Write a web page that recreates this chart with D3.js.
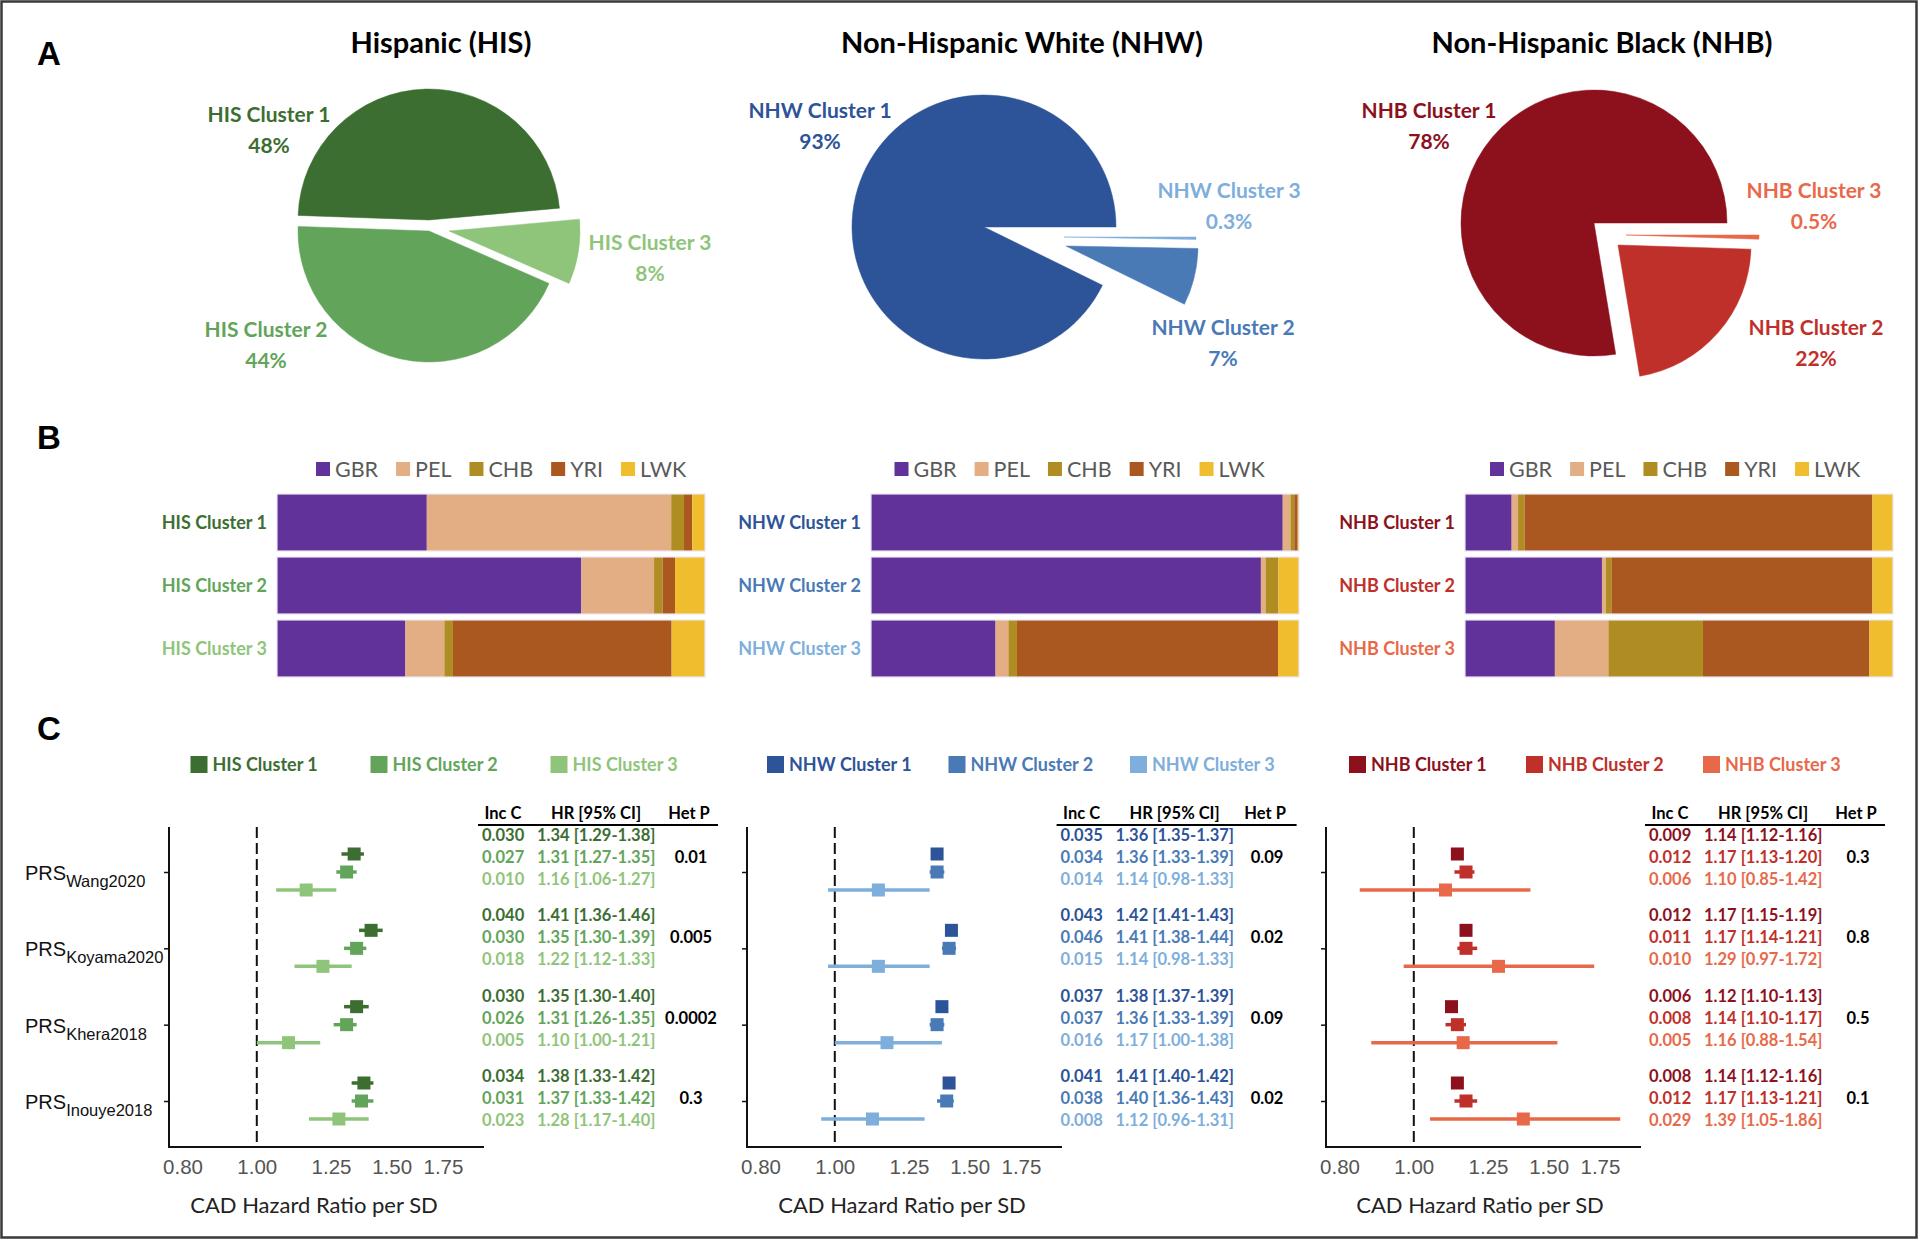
<!DOCTYPE html>
<html><head><meta charset="utf-8">
<script src="https://cdn.jsdelivr.net/npm/d3@7"></script>
<style>body{margin:0;background:#fff;} svg{display:block;}</style>
</head><body>
<svg id="c" width="1920" height="1242"></svg>
<script>
// ---------------- DATA ----------------
const groupTitles = ["Hispanic (HIS)", "Non-Hispanic White (NHW)", "Non-Hispanic Black (NHB)"];
const hisClusters = ["HIS Cluster 1", "HIS Cluster 2", "HIS Cluster 3"];
const nhwClusters = ["NHW Cluster 1", "NHW Cluster 2", "NHW Cluster 3"];
const nhbClusters = ["NHB Cluster 1", "NHB Cluster 2", "NHB Cluster 3"];

const hisColors = ["#3c6e32", "#62a55a", "#8fc57a"];
const nhwColors = ["#2d5398", "#4a7ab6", "#7eaedb"];
const nhbColors = ["#8c111c", "#c0302a", "#e8694a"];

// Panel A: cluster shares (%)
const hisShare = [48, 44, 8];
const nhwShare = [93, 7, 0.3];
const nhbShare = [78, 22, 0.5];

// Panel B: ancestry proportions per cluster
const ancestries = ["GBR", "PEL", "CHB", "YRI", "LWK"];
const ancestryColors = ["#60329a", "#e3ae84", "#b08d22", "#aa581f", "#efbd2d"];
const hisAncestry = [
  [0.350, 0.571, 0.030, 0.019, 0.030],
  [0.711, 0.170, 0.020, 0.029, 0.070],
  [0.300, 0.091, 0.020, 0.511, 0.078]
];
const nhwAncestry = [
  [0.962, 0.018, 0.009, 0.008, 0.003],
  [0.911, 0.011, 0.030, 0.000, 0.048],
  [0.291, 0.030, 0.020, 0.610, 0.049]
];
const nhbAncestry = [
  [0.109, 0.015, 0.015, 0.813, 0.048],
  [0.320, 0.009, 0.013, 0.610, 0.048],
  [0.210, 0.125, 0.221, 0.389, 0.055]
];

// Panel C: PRS hazard ratios
const prsNames = ["Wang2020", "Koyama2020", "Khera2018", "Inouye2018"];
const hrTicks = [0.80, 1.00, 1.25, 1.50, 1.75];

const hisHR = [[1.34, 1.31, 1.16], [1.41, 1.35, 1.22], [1.35, 1.31, 1.10], [1.38, 1.37, 1.28]];
const hisLo = [[1.29, 1.27, 1.06], [1.36, 1.30, 1.12], [1.30, 1.26, 1.00], [1.33, 1.33, 1.17]];
const hisHi = [[1.38, 1.35, 1.27], [1.46, 1.39, 1.33], [1.40, 1.35, 1.21], [1.42, 1.42, 1.40]];
const hisInc = [[0.030, 0.027, 0.010], [0.040, 0.030, 0.018], [0.030, 0.026, 0.005], [0.034, 0.031, 0.023]];
const hisHetP = [0.01, 0.005, 0.0002, 0.3];

const nhwHR = [[1.36, 1.36, 1.14], [1.42, 1.41, 1.14], [1.38, 1.36, 1.17], [1.41, 1.40, 1.12]];
const nhwLo = [[1.35, 1.33, 0.98], [1.41, 1.38, 0.98], [1.37, 1.33, 1.00], [1.40, 1.36, 0.96]];
const nhwHi = [[1.37, 1.39, 1.33], [1.43, 1.44, 1.33], [1.39, 1.39, 1.38], [1.42, 1.43, 1.31]];
const nhwInc = [[0.035, 0.034, 0.014], [0.043, 0.046, 0.015], [0.037, 0.037, 0.016], [0.041, 0.038, 0.008]];
const nhwHetP = [0.09, 0.02, 0.09, 0.02];

const nhbHR = [[1.14, 1.17, 1.10], [1.17, 1.17, 1.29], [1.12, 1.14, 1.16], [1.14, 1.17, 1.39]];
const nhbLo = [[1.12, 1.13, 0.85], [1.15, 1.14, 0.97], [1.10, 1.10, 0.88], [1.12, 1.13, 1.05]];
const nhbHi = [[1.16, 1.20, 1.42], [1.19, 1.21, 1.72], [1.13, 1.17, 1.54], [1.16, 1.21, 1.86]];
const nhbInc = [[0.009, 0.012, 0.006], [0.012, 0.011, 0.010], [0.006, 0.008, 0.005], [0.008, 0.012, 0.029]];
const nhbHetP = [0.3, 0.8, 0.5, 0.1];

// ---------------- DRAW ----------------
const svg = d3.select("#c");
const F = "Lato, 'Open Sans', sans-serif";
const FA = "'Liberation Sans', Arial, sans-serif";

svg.append("rect").attr("x", 1.5).attr("y", 1.5).attr("width", 1915).attr("height", 1236)
  .attr("fill", "#fff").attr("stroke", "#3a3a3a").attr("stroke-width", 2.5);

// panel letters
[["A", 65], ["B", 449], ["C", 740]].forEach(([t, y]) => {
  svg.append("text").attr("x", 37).attr("y", y).text(t)
    .attr("font-family", FA).attr("font-weight", "bold").attr("font-size", 33).attr("fill", "#000");
});

// titles
const titleX = [441, 1022, 1602];
groupTitles.forEach((t, i) => {
  svg.append("text").attr("x", titleX[i]).attr("y", 53).attr("text-anchor", "middle").text(t)
    .attr("font-family", F).attr("font-weight", "bold").attr("font-size", 29).attr("fill", "#000");
});

// ---- Panel A pies ----
function drawPie(cfg) {
  const ordered = cfg.order.map(i => ({ i, v: cfg.values[i] }));
  const a0 = cfg.startDeg * Math.PI / 180;
  const pie = d3.pie().sort(null).value(d => d.v).startAngle(a0).endAngle(a0 + 2 * Math.PI);
  const arc = d3.arc().innerRadius(0).outerRadius(cfg.r);
  const g = svg.append("g").attr("transform", `translate(${cfg.cx},${cfg.cy})`);
  g.selectAll("path").data(pie(ordered)).join("path")
    .attr("d", arc)
    .attr("fill", d => cfg.colors[d.data.i])
    .attr("stroke", d => cfg.colors[d.data.i]).attr("stroke-width", 0.5)
    .attr("transform", d => `translate(${cfg.offsets[d.data.i][0]},${cfg.offsets[d.data.i][1]})`);
  cfg.names.forEach((n, i) => {
    const [lx, ly] = cfg.labelPos[i];
    const t = svg.append("text").attr("text-anchor", "middle")
      .attr("font-family", F).attr("font-weight", "bold").attr("font-size", 21).attr("fill", cfg.colors[i]);
    t.append("tspan").attr("x", lx).attr("y", ly + 5).text(n);
    t.append("tspan").attr("x", lx).attr("y", ly + 36).text(cfg.values[i] + "%");
  });
}
drawPie({ cx: 429, cy: 231, r: 131, values: hisShare, names: hisClusters, colors: hisColors,
  startDeg: -88, order: [0, 2, 1], offsets: [[0, -11], [0, 0], [20, 0]],
  labelPos: [[269, 117], [266, 332], [650, 245]] });
drawPie({ cx: 984, cy: 227, r: 132, values: nhwShare, names: nhwClusters, colors: nhwColors,
  startDeg: 116.2, order: [0, 2, 1], offsets: [[0, 0], [82, 19], [80, 10]],
  labelPos: [[820, 113], [1223, 330], [1229, 193]] });
drawPie({ cx: 1594, cy: 223, r: 133, values: nhbShare, names: nhbClusters, colors: nhbColors,
  startDeg: 170.6, order: [0, 2, 1], offsets: [[0, 0], [24, 22], [32, 12]],
  labelPos: [[1429, 113], [1816, 330], [1814, 193]] });

// ---- Panel B stacked bars ----
function drawBars(x0, rows, names, colors, legendX) {
  const x = d3.scaleLinear().domain([0, 1]).range([x0, x0 + 428]);
  const y = d3.scaleBand().domain(names).range([494, 677]).paddingInner(0.095);
  const g = svg.append("g");
  rows.forEach((row, ri) => {
    const tot = d3.sum(row);
    let acc = 0;
    const segs = row.map((v, k) => { const s = { k, a: acc / tot, b: (acc + v) / tot }; acc += v; return s; });
    g.selectAll(null).data(segs).join("rect")
      .attr("x", d => x(d.a)).attr("width", d => Math.max(0, x(d.b) - x(d.a)))
      .attr("y", y(names[ri])).attr("height", y.bandwidth())
      .attr("fill", d => ancestryColors[d.k]);
    g.append("rect").attr("x", x(0)).attr("y", y(names[ri])).attr("width", x(1) - x(0))
      .attr("height", y.bandwidth()).attr("fill", "none").attr("stroke", "#ece6f2").attr("stroke-width", 1.2);
    g.append("text").attr("x", x0 - 10).attr("y", y(names[ri]) + y.bandwidth() / 2 + 6.5)
      .attr("text-anchor", "end").text(names[ri])
      .attr("font-family", F).attr("font-weight", "bold").attr("font-size", 18).attr("fill", colors[ri]);
  });
  // legend
  let lx = legendX;
  ancestries.forEach((a, k) => {
    g.append("rect").attr("x", lx).attr("y", 462).attr("width", 14).attr("height", 14).attr("fill", ancestryColors[k]);
    const t = g.append("text").attr("x", lx + 19).attr("y", 477).text(a)
      .attr("font-family", F).attr("font-size", 21.5).attr("fill", "#595959");
    lx += 19 + t.node().getComputedTextLength() + 18;
  });
}
drawBars(277, hisAncestry, hisClusters, hisColors, 316);
drawBars(871, nhwAncestry, nhwClusters, nhwColors, 894.5);
drawBars(1465, nhbAncestry, nhbClusters, nhbColors, 1490);

// ---- Panel C forest plots ----
const fmt3 = d3.format(".3f"), fmt2 = d3.format(".2f");
function drawForest(cfg) {
  const px = cfg.px;
  const x = d3.scaleLog().domain([0.768, 1.98]).range([px, px + 315]);
  const y = d3.scalePoint().domain(prsNames).range([872, 1101]);
  const offs = [-18, 0, 18];
  const g = svg.append("g");

  // legend
  cfg.names.forEach((n, i) => {
    const lx = cfg.legendX + i * cfg.legendStep;
    g.append("rect").attr("x", lx).attr("y", 756).attr("width", 17).attr("height", 17).attr("fill", cfg.colors[i]);
    g.append("text").attr("x", lx + 22).attr("y", 770.5).text(n)
      .attr("font-family", F).attr("font-weight", "bold").attr("font-size", 18).attr("fill", cfg.colors[i]);
  });

  // axes
  g.append("line").attr("x1", px).attr("x2", px).attr("y1", 827).attr("y2", 1148)
    .attr("stroke", "#111").attr("stroke-width", 2);
  g.append("line").attr("x1", px - 1).attr("x2", px + 315).attr("y1", 1147).attr("y2", 1147)
    .attr("stroke", "#111").attr("stroke-width", 2);
  const ya = g.append("g").attr("transform", `translate(${px},0)`)
    .call(d3.axisLeft(y).tickSize(5).tickSizeOuter(0).tickFormat(""));
  ya.select(".domain").remove();
  ya.selectAll(".tick line").attr("stroke", "#111").attr("stroke-width", 1.5);
  const xa = g.append("g").attr("transform", `translate(0,1147)`)
    .call(d3.axisBottom(x).tickValues(hrTicks).tickFormat(fmt2).tickSize(0).tickPadding(12));
  xa.select(".domain").remove();
  xa.selectAll("text").attr("font-family", FA).attr("font-size", 20.5).attr("fill", "#555");

  g.append("text").attr("x", cfg.xlabX).attr("y", 1213).attr("text-anchor", "middle")
    .text("CAD Hazard Ratio per SD").attr("font-family", F).attr("font-size", 22).attr("fill", "#222");

  // reference line
  g.append("line").attr("x1", x(1)).attr("x2", x(1)).attr("y1", 827).attr("y2", 1147)
    .attr("stroke", "#111").attr("stroke-width", 2).attr("stroke-dasharray", "11,5");

  if (cfg.showLabels) {
    prsNames.forEach(p => {
      const t = g.append("text").attr("x", 25).attr("y", y(p) + 8)
        .attr("font-family", FA).attr("font-size", 20).attr("fill", "#111");
      t.append("tspan").text("PRS");
      t.append("tspan").attr("dy", 7).attr("font-size", 16.5).text(p);
    });
  }

  // points
  prsNames.forEach((p, gi) => {
    [0, 1, 2].forEach(ci => {
      const yy = y(p) + offs[ci];
      const col = cfg.colors[ci];
      g.append("line").attr("x1", x(cfg.lo[gi][ci])).attr("x2", x(cfg.hi[gi][ci]))
        .attr("y1", yy).attr("y2", yy).attr("stroke", col).attr("stroke-width", 3.5);
      g.append("rect").attr("x", x(cfg.hr[gi][ci]) - 6.5).attr("y", yy - 6.5)
        .attr("width", 13).attr("height", 13).attr("fill", col);
    });
  });

  // table
  const tx = cfg.tableX;
  const hdr = [["Inc C", tx + 21], ["HR [95% CI]", tx + 114], ["Het P", tx + cfg.hetOff - 2]];
  hdr.forEach(([t, hx]) => {
    g.append("text").attr("x", hx).attr("y", 819).attr("text-anchor", "middle").text(t)
      .attr("font-family", F).attr("font-weight", "bold").attr("font-size", 16.5).attr("fill", "#000");
  });
  g.append("line").attr("x1", tx - 4).attr("x2", tx + 236).attr("y1", 825).attr("y2", 825)
    .attr("stroke", "#000").attr("stroke-width", 2);
  prsNames.forEach((p, gi) => {
    [0, 1, 2].forEach(ci => {
      const ry = 835 + gi * 80.3 + ci * 22 + 6;
      const col = cfg.colors[ci];
      g.append("text").attr("x", tx).attr("y", ry).text(fmt3(cfg.inc[gi][ci]))
        .attr("font-family", F).attr("font-weight", "bold").attr("font-size", 16.5).attr("fill", col);
      g.append("text").attr("x", tx + 55).attr("y", ry)
        .text(`${fmt2(cfg.hr[gi][ci])} [${fmt2(cfg.lo[gi][ci])}-${fmt2(cfg.hi[gi][ci])}]`)
        .attr("font-family", F).attr("font-weight", "bold").attr("font-size", 16.5).attr("fill", col);
    });
    g.append("text").attr("x", tx + cfg.hetOff).attr("y", 835 + gi * 80.3 + 22 + 6)
      .attr("text-anchor", "middle").text(String(cfg.het[gi]))
      .attr("font-family", F).attr("font-weight", "bold").attr("font-size", 16.5).attr("fill", "#000");
  });
}

drawForest({ px: 169, names: hisClusters, colors: hisColors, hr: hisHR, lo: hisLo, hi: hisHi,
  inc: hisInc, het: hisHetP, legendX: 190.5, legendStep: 180, tableX: 482, hetOff: 209,
  xlabX: 314, showLabels: true });
drawForest({ px: 747, names: nhwClusters, colors: nhwColors, hr: nhwHR, lo: nhwLo, hi: nhwHi,
  inc: nhwInc, het: nhwHetP, legendX: 767, legendStep: 181.5, tableX: 1060.6, hetOff: 206.5,
  xlabX: 902, showLabels: false });
drawForest({ px: 1326, names: nhbClusters, colors: nhbColors, hr: nhbHR, lo: nhbLo, hi: nhbHi,
  inc: nhbInc, het: nhbHetP, legendX: 1349, legendStep: 177, tableX: 1649, hetOff: 209,
  xlabX: 1480, showLabels: false });
</script>
</body></html>
